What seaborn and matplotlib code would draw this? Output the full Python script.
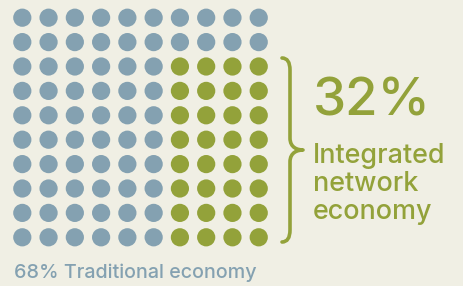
import numpy as np
import pandas as pd
import matplotlib
matplotlib.use("Agg")
import matplotlib.pyplot as plt
from matplotlib.path import Path
from matplotlib.patches import PathPatch
import seaborn as sns

# ---- data ----
categories = ["Traditional economy", "Integrated network economy"]
shares = [68, 32]
n_cols = 10
n_rows = 10
# number of "integrated" dots in each column (filled from the bottom)
integrated_per_column = [0, 0, 0, 0, 0, 0, 8, 8, 8, 8]
big_label = "32%"
side_lines = ["Integrated", "network", "economy"]
bottom_label = "68% Traditional economy"

BG = "#F0EFE4"
BLUE = "#84A1B1"
GREEN = "#93A23A"

# ---- build grid table ----
rows = []
for c in range(n_cols):
    k = integrated_per_column[c]
    for r in range(n_rows):
        cat = categories[1] if r >= n_rows - k else categories[0]
        rows.append({"col": c, "row": r, "category": cat})
df = pd.DataFrame(rows)

sns.set_theme(style="white")
plt.rcParams["font.family"] = ["Inter", "DejaVu Sans"]

W, H = 463, 286
fig = plt.figure(figsize=(W / 100, H / 100), dpi=100, facecolor=BG)
ax = fig.add_axes([0, 0, 1, 1])
ax.set_facecolor(BG)

sns.scatterplot(data=df, x="col", y="row", hue="category",
                palette={categories[0]: BLUE, categories[1]: GREEN},
                s=172, linewidth=0, legend=False, ax=ax)

# map grid to pixel positions
x0, dx = 22.3, 26.27
y0, dy = 17.7, 24.4
ax.set_xlim(-x0 / dx, -x0 / dx + W / dx)
ax.set_ylim(-y0 / dy + H / dy, -y0 / dy)
ax.set_axis_off()

def fx(px):
    return px / W

def fy(py):
    return 1 - py / H

# brace (pixel coordinates -> figure fraction)
pts = [(282, 58), (290, 58), (290, 70),
       (290, 138),
       (290, 148), (298, 150), (303, 150),
       (298, 150), (290, 152), (290, 162),
       (290, 230),
       (290, 242), (282, 242)]
codes = [Path.MOVETO, Path.CURVE3, Path.CURVE3,
         Path.LINETO,
         Path.CURVE4, Path.CURVE4, Path.CURVE4,
         Path.CURVE4, Path.CURVE4, Path.CURVE4,
         Path.LINETO,
         Path.CURVE3, Path.CURVE3]
verts = [(fx(x), fy(y)) for x, y in pts]
brace = PathPatch(Path(verts, codes), transform=fig.transFigure,
                  fill=False, edgecolor=GREEN, linewidth=2.6,
                  capstyle="round", joinstyle="round")
fig.patches.append(brace)

fig.text(fx(313), fy(116), big_label, color=GREEN, fontsize=38,
         fontweight="medium", ha="left", va="baseline")
for i, line in enumerate(side_lines):
    fig.text(fx(313), fy(162.7 + 28 * i), line, color=GREEN, fontsize=19.4,
             fontweight="medium", ha="left", va="baseline")
fig.text(fx(14), fy(278.3), bottom_label, color=BLUE, fontsize=14.2,
         fontweight="medium", ha="left", va="baseline")

fig.savefig("out.png", dpi=100, facecolor=BG)
